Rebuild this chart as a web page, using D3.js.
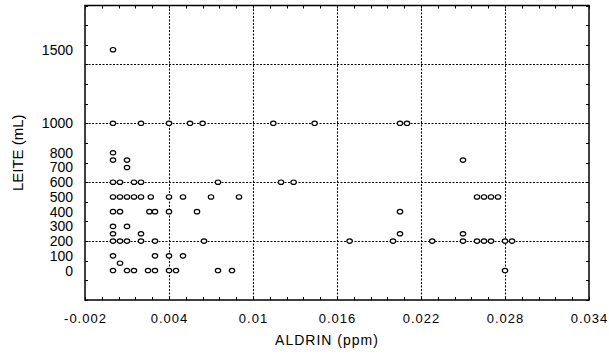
<!DOCTYPE html>
<html><head><meta charset="utf-8">
<script src="https://cdn.jsdelivr.net/npm/d3@7"></script>
<style>
html,body{margin:0;padding:0;background:#fff;}
svg{display:block;}
</style></head>
<body>
<svg id="chart" width="609" height="355"></svg>
<script>
// Data: ALDRIN (ppm) values grouped by LEITE (mL)
const leite1500 = [0];
const leite1000 = [0, 0.002, 0.004, 0.0055, 0.0064, 0.01145, 0.0144, 0.0205, 0.021];
const leite800 = [0];
const leite750 = [0, 0.001, 0.025];
const leite700 = [0.001];
const leite600 = [0, 0.0005, 0.0015, 0.002, 0.0075, 0.012, 0.0129];
const leite500 = [0, 0.0005, 0.001, 0.0015, 0.002, 0.0027, 0.004, 0.005, 0.007, 0.009, 0.026, 0.0265, 0.027, 0.0275];
const leite400 = [0, 0.0005, 0.0026, 0.003, 0.004, 0.006, 0.0205];
const leite300 = [0, 0.001];
const leite250 = [0, 0.002, 0.0205, 0.025];
const leite200 = [0, 0.0005, 0.001, 0.002, 0.003, 0.0065, 0.0169, 0.02, 0.0228, 0.025, 0.026, 0.0265, 0.027, 0.028, 0.0285];
const leite100 = [0, 0.003, 0.004, 0.005];
const leite50 = [0.0005];
const leite0 = [0, 0.001, 0.0015, 0.0025, 0.003, 0.004, 0.0045, 0.0075, 0.0085, 0.028];

const groups = [
  [1500, leite1500], [1000, leite1000], [800, leite800], [750, leite750], [700, leite700],
  [600, leite600], [500, leite500], [400, leite400], [300, leite300], [250, leite250],
  [200, leite200], [100, leite100], [50, leite50], [0, leite0]
];

const xTicks = [-0.002, 0.004, 0.01, 0.016, 0.022, 0.028, 0.034];
const yLabels = [0, 100, 200, 300, 400, 500, 600, 700, 800, 1000, 1500];
const yGrid = [200, 600, 1000, 1400];
const xDomain = [-0.002, 0.034];
const yDomain = [-200, 1800];
const xTitle = "ALDRIN (ppm)";
const yTitle = "LEITE (mL)";

const points = [];
groups.forEach(([y, xs]) => xs.forEach(x => points.push({x, y})));

const L = 85, R = 589, T = 5.5, B = 300;
const svg = d3.select("#chart");
const x = d3.scaleLinear().domain(xDomain).range([L, R]);
const y = d3.scaleLinear().domain(yDomain).range([B, T]);

// gridlines
const grid = svg.append("g").attr("stroke", "#000").attr("stroke-width", 1).attr("stroke-dasharray", "2,1.5");
grid.selectAll("line.v").data(xTicks.slice(1, -1)).join("line")
  .attr("x1", d => Math.round(x(d)) + 0.5).attr("x2", d => Math.round(x(d)) + 0.5)
  .attr("y1", T).attr("y2", B);
grid.selectAll("line.h").data(yGrid).join("line")
  .attr("y1", d => Math.round(y(d)) + 0.5).attr("y2", d => Math.round(y(d)) + 0.5)
  .attr("x1", L).attr("x2", R);

// minor ticks
const xMinor = d3.range(0, 31).map(i => xDomain[0] + i * 0.0012);
const yMinor = d3.range(0, 16).map(i => yDomain[0] + i * 400 / 3);
const tk = svg.append("g").attr("stroke", "#000").attr("stroke-width", 1);
xMinor.forEach(v => {
  const px = Math.round(x(v)) + 0.5;
  tk.append("line").attr("x1", px).attr("x2", px).attr("y1", B).attr("y2", B - 3);
  tk.append("line").attr("x1", px).attr("x2", px).attr("y1", T).attr("y2", T + 3);
});
yMinor.forEach(v => {
  const py = Math.round(y(v)) + 0.5;
  tk.append("line").attr("y1", py).attr("y2", py).attr("x1", L).attr("x2", L + 3);
  tk.append("line").attr("y1", py).attr("y2", py).attr("x1", R).attr("x2", R - 3);
});

// frame
svg.append("rect").attr("x", L).attr("y", T).attr("width", R - L).attr("height", B - T)
  .attr("fill", "none").attr("stroke", "#000").attr("stroke-width", 1.5);

// axes (labels only)
const xAxis = d3.axisBottom(x).tickValues(xTicks).tickSize(0).tickPadding(14)
  .tickFormat(d => String(+d.toFixed(3)));
const gx = svg.append("g").attr("transform", `translate(0,${B})`).call(xAxis);
gx.select(".domain").remove();
gx.selectAll("text").attr("font-family", "Liberation Sans, Arial, sans-serif")
  .attr("font-size", 13).attr("letter-spacing", "1px").attr("fill", "#000");

const yAxis = d3.axisLeft(y).tickValues(yLabels).tickSize(0).tickPadding(12)
  .tickFormat(d => String(d));
const gy = svg.append("g").attr("transform", `translate(${L},0)`).call(yAxis);
gy.select(".domain").remove();
gy.selectAll("text").attr("font-family", "Liberation Sans, Arial, sans-serif")
  .attr("font-size", 14).attr("fill", "#000");

// titles
svg.append("text").attr("x", (L + R) / 2 - 10).attr("y", 345).attr("text-anchor", "middle")
  .attr("font-family", "Liberation Sans, Arial, sans-serif").attr("font-size", 14)
  .attr("letter-spacing", "1px").text(xTitle);
svg.append("text").attr("transform", `translate(23,${(T + B) / 2}) rotate(-90)`)
  .attr("text-anchor", "middle").attr("font-family", "Liberation Sans, Arial, sans-serif")
  .attr("font-size", 15).text(yTitle);

// points
svg.append("g").selectAll("ellipse").data(points).join("ellipse")
  .attr("cx", d => x(d.x)).attr("cy", d => y(d.y))
  .attr("rx", 2.7).attr("ry", 2.2)
  .attr("fill", "#fff").attr("stroke", "#000").attr("stroke-width", 1.2);
</script>
</body></html>
